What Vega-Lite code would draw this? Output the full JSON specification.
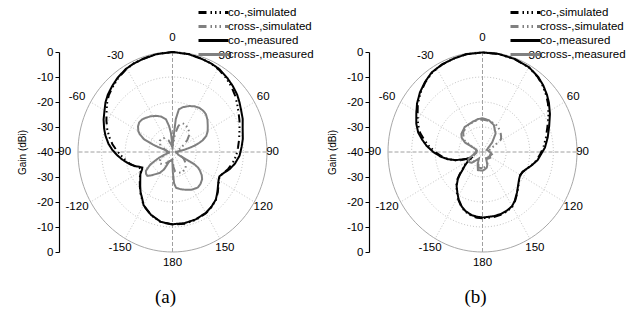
{
"$schema":"https://vega.github.io/schema/vega-lite/v6.json",
"background":"white",
"padding":{"left":17,"top":6,"right":0,"bottom":0},
"bounds":"flush",
"spacing":83,
"config":{"view":{"stroke":null},"font":"Liberation Sans","axisY":{"labelOverlap":false,"labelBound":false}},
"resolve":{"legend":{"color":"independent","strokeDash":"independent"}},
"datasets":{
"A":[
{"s":"co-,measured","ang":-180,"g":-11.1},{"s":"co-,measured","ang":-170,"g":-11.6},{"s":"co-,measured","ang":-160,"g":-13.3},{"s":"co-,measured","ang":-150,"g":-15.5},{"s":"co-,measured","ang":-146,"g":-17.2},{"s":"co-,measured","ang":-140,"g":-19.0},{"s":"co-,measured","ang":-135,"g":-20.7},{"s":"co-,measured","ang":-128,"g":-22.7},{"s":"co-,measured","ang":-123,"g":-23.8},{"s":"co-,measured","ang":-119,"g":-25.2},{"s":"co-,measured","ang":-116,"g":-25.8},{"s":"co-,measured","ang":-113,"g":-24.8},{"s":"co-,measured","ang":-110,"g":-23.4},{"s":"co-,measured","ang":-105,"g":-21.2},{"s":"co-,measured","ang":-98,"g":-18.5},{"s":"co-,measured","ang":-93,"g":-16.5},{"s":"co-,measured","ang":-88,"g":-14.5},{"s":"co-,measured","ang":-83,"g":-12.7},{"s":"co-,measured","ang":-77,"g":-10.9},{"s":"co-,measured","ang":-72,"g":-9.6},{"s":"co-,measured","ang":-66,"g":-8.1},{"s":"co-,measured","ang":-60,"g":-6.8},{"s":"co-,measured","ang":-55,"g":-5.4},{"s":"co-,measured","ang":-50,"g":-4.3},{"s":"co-,measured","ang":-44,"g":-3.3},{"s":"co-,measured","ang":-38,"g":-2.3},{"s":"co-,measured","ang":-31,"g":-1.4},{"s":"co-,measured","ang":-25,"g":-1.0},{"s":"co-,measured","ang":-19,"g":-0.8},{"s":"co-,measured","ang":-10,"g":-0.3},{"s":"co-,measured","ang":0,"g":0},{"s":"co-,measured","ang":10,"g":-0.3},{"s":"co-,measured","ang":19,"g":-0.8},{"s":"co-,measured","ang":25,"g":-1.0},{"s":"co-,measured","ang":31,"g":-1.4},{"s":"co-,measured","ang":38,"g":-2.4},{"s":"co-,measured","ang":44,"g":-3.3},{"s":"co-,measured","ang":50,"g":-4.3},{"s":"co-,measured","ang":55,"g":-5.4},{"s":"co-,measured","ang":60,"g":-6.5},{"s":"co-,measured","ang":66,"g":-7.5},{"s":"co-,measured","ang":72,"g":-8.8},{"s":"co-,measured","ang":80,"g":-9.8},{"s":"co-,measured","ang":86,"g":-10.7},{"s":"co-,measured","ang":93,"g":-11.6},{"s":"co-,measured","ang":100,"g":-13.2},{"s":"co-,measured","ang":106,"g":-14.9},{"s":"co-,measured","ang":111,"g":-16.7},{"s":"co-,measured","ang":116,"g":-17.9},{"s":"co-,measured","ang":120,"g":-17.5},{"s":"co-,measured","ang":125,"g":-16.5},{"s":"co-,measured","ang":130,"g":-15.2},{"s":"co-,measured","ang":136,"g":-13.6},{"s":"co-,measured","ang":143,"g":-12.6},{"s":"co-,measured","ang":150,"g":-11.9},{"s":"co-,measured","ang":160,"g":-11.3},{"s":"co-,measured","ang":170,"g":-11.1},{"s":"co-,measured","ang":180,"g":-11.1},
{"s":"co-,simulated","ang":-180,"g":-11.0},{"s":"co-,simulated","ang":-170,"g":-11.5},{"s":"co-,simulated","ang":-160,"g":-13.2},{"s":"co-,simulated","ang":-150,"g":-15.4},{"s":"co-,simulated","ang":-146,"g":-17.0},{"s":"co-,simulated","ang":-140,"g":-18.8},{"s":"co-,simulated","ang":-135,"g":-20.5},{"s":"co-,simulated","ang":-128,"g":-22.4},{"s":"co-,simulated","ang":-123,"g":-23.7},{"s":"co-,simulated","ang":-119,"g":-24.7},{"s":"co-,simulated","ang":-116,"g":-25.0},{"s":"co-,simulated","ang":-113,"g":-24.2},{"s":"co-,simulated","ang":-110,"g":-23.2},{"s":"co-,simulated","ang":-105,"g":-21.5},{"s":"co-,simulated","ang":-98,"g":-19.5},{"s":"co-,simulated","ang":-93,"g":-18.0},{"s":"co-,simulated","ang":-88,"g":-16.2},{"s":"co-,simulated","ang":-83,"g":-14.4},{"s":"co-,simulated","ang":-77,"g":-12.5},{"s":"co-,simulated","ang":-72,"g":-11.0},{"s":"co-,simulated","ang":-66,"g":-9.4},{"s":"co-,simulated","ang":-60,"g":-7.8},{"s":"co-,simulated","ang":-55,"g":-6.2},{"s":"co-,simulated","ang":-50,"g":-4.8},{"s":"co-,simulated","ang":-44,"g":-3.7},{"s":"co-,simulated","ang":-38,"g":-2.6},{"s":"co-,simulated","ang":-31,"g":-1.6},{"s":"co-,simulated","ang":-25,"g":-1.0},{"s":"co-,simulated","ang":-19,"g":-0.7},{"s":"co-,simulated","ang":-10,"g":-0.2},{"s":"co-,simulated","ang":0,"g":0},{"s":"co-,simulated","ang":10,"g":-0.2},{"s":"co-,simulated","ang":19,"g":-0.7},{"s":"co-,simulated","ang":25,"g":-1.1},{"s":"co-,simulated","ang":31,"g":-1.7},{"s":"co-,simulated","ang":38,"g":-2.8},{"s":"co-,simulated","ang":44,"g":-4.0},{"s":"co-,simulated","ang":50,"g":-5.3},{"s":"co-,simulated","ang":55,"g":-6.6},{"s":"co-,simulated","ang":60,"g":-7.8},{"s":"co-,simulated","ang":66,"g":-9.0},{"s":"co-,simulated","ang":72,"g":-10.2},{"s":"co-,simulated","ang":80,"g":-11.4},{"s":"co-,simulated","ang":86,"g":-12.2},{"s":"co-,simulated","ang":93,"g":-13.0},{"s":"co-,simulated","ang":100,"g":-14.2},{"s":"co-,simulated","ang":106,"g":-15.5},{"s":"co-,simulated","ang":111,"g":-16.8},{"s":"co-,simulated","ang":116,"g":-17.8},{"s":"co-,simulated","ang":120,"g":-17.4},{"s":"co-,simulated","ang":125,"g":-16.3},{"s":"co-,simulated","ang":130,"g":-15.0},{"s":"co-,simulated","ang":136,"g":-13.5},{"s":"co-,simulated","ang":143,"g":-12.5},{"s":"co-,simulated","ang":150,"g":-11.7},{"s":"co-,simulated","ang":160,"g":-11.1},{"s":"co-,simulated","ang":170,"g":-10.9},{"s":"co-,simulated","ang":180,"g":-11.0},
{"s":"cross-,measured","ang":-180,"g":-35},{"s":"cross-,measured","ang":-178,"g":-37},{"s":"cross-,measured","ang":-170,"g":-36.5},{"s":"cross-,measured","ang":-160,"g":-36},{"s":"cross-,measured","ang":-153,"g":-32.2},{"s":"cross-,measured","ang":-147,"g":-30},{"s":"cross-,measured","ang":-141,"g":-28.6},{"s":"cross-,measured","ang":-136,"g":-27},{"s":"cross-,measured","ang":-132,"g":-25.7},{"s":"cross-,measured","ang":-128,"g":-25.8},{"s":"cross-,measured","ang":-124,"g":-26.4},{"s":"cross-,measured","ang":-120,"g":-28.5},{"s":"cross-,measured","ang":-118,"g":-29.5},{"s":"cross-,measured","ang":-115,"g":-32},{"s":"cross-,measured","ang":-112,"g":-33.9},{"s":"cross-,measured","ang":-108,"g":-36.5},{"s":"cross-,measured","ang":-100,"g":-38.5},{"s":"cross-,measured","ang":-90,"g":-38.5},{"s":"cross-,measured","ang":-80,"g":-37.5},{"s":"cross-,measured","ang":-75,"g":-37},{"s":"cross-,measured","ang":-72,"g":-33.5},{"s":"cross-,measured","ang":-70,"g":-31},{"s":"cross-,measured","ang":-67,"g":-26.9},{"s":"cross-,measured","ang":-63,"g":-24.5},{"s":"cross-,measured","ang":-60,"g":-23.3},{"s":"cross-,measured","ang":-55,"g":-22.2},{"s":"cross-,measured","ang":-50,"g":-21.6},{"s":"cross-,measured","ang":-45,"g":-21.7},{"s":"cross-,measured","ang":-40,"g":-22.2},{"s":"cross-,measured","ang":-33,"g":-23},{"s":"cross-,measured","ang":-26,"g":-23.9},{"s":"cross-,measured","ang":-19,"g":-25},{"s":"cross-,measured","ang":-12,"g":-26.6},{"s":"cross-,measured","ang":-8,"g":-29.5},{"s":"cross-,measured","ang":-5,"g":-32.3},{"s":"cross-,measured","ang":-2,"g":-37},{"s":"cross-,measured","ang":0,"g":-39},{"s":"cross-,measured","ang":2,"g":-37},{"s":"cross-,measured","ang":5,"g":-32.2},{"s":"cross-,measured","ang":6,"g":-26.8},{"s":"cross-,measured","ang":9,"g":-22.7},{"s":"cross-,measured","ang":14,"g":-21.5},{"s":"cross-,measured","ang":21,"g":-20.3},{"s":"cross-,measured","ang":27,"g":-19.5},{"s":"cross-,measured","ang":33,"g":-19},{"s":"cross-,measured","ang":38,"g":-19},{"s":"cross-,measured","ang":43,"g":-19.3},{"s":"cross-,measured","ang":49,"g":-20.4},{"s":"cross-,measured","ang":55,"g":-21.8},{"s":"cross-,measured","ang":61,"g":-23},{"s":"cross-,measured","ang":66,"g":-24.4},{"s":"cross-,measured","ang":70,"g":-26.5},{"s":"cross-,measured","ang":72,"g":-28.1},{"s":"cross-,measured","ang":75,"g":-30.5},{"s":"cross-,measured","ang":77,"g":-32.7},{"s":"cross-,measured","ang":80,"g":-35},{"s":"cross-,measured","ang":82,"g":-37.1},{"s":"cross-,measured","ang":88,"g":-38.5},{"s":"cross-,measured","ang":95,"g":-38.5},{"s":"cross-,measured","ang":105,"g":-38},{"s":"cross-,measured","ang":112,"g":-37.5},{"s":"cross-,measured","ang":115,"g":-36.9},{"s":"cross-,measured","ang":117,"g":-33.6},{"s":"cross-,measured","ang":118,"g":-29.5},{"s":"cross-,measured","ang":120,"g":-27.5},{"s":"cross-,measured","ang":123,"g":-26.1},{"s":"cross-,measured","ang":127,"g":-24.5},{"s":"cross-,measured","ang":131,"g":-23.4},{"s":"cross-,measured","ang":137,"g":-22.6},{"s":"cross-,measured","ang":143,"g":-22.2},{"s":"cross-,measured","ang":151,"g":-22.8},{"s":"cross-,measured","ang":159,"g":-23.8},{"s":"cross-,measured","ang":167,"g":-24.7},{"s":"cross-,measured","ang":174,"g":-25.6},{"s":"cross-,measured","ang":177,"g":-27.5},{"s":"cross-,measured","ang":179,"g":-32},{"s":"cross-,measured","ang":180,"g":-35},
{"s":"cross-,simulated","ang":-180,"g":-37},{"s":"cross-,simulated","ang":-160,"g":-36},{"s":"cross-,simulated","ang":-150,"g":-35},{"s":"cross-,simulated","ang":-140,"g":-33.5},{"s":"cross-,simulated","ang":-130,"g":-33},{"s":"cross-,simulated","ang":-120,"g":-34},{"s":"cross-,simulated","ang":-110,"g":-36},{"s":"cross-,simulated","ang":-100,"g":-37.5},{"s":"cross-,simulated","ang":-90,"g":-38},{"s":"cross-,simulated","ang":-80,"g":-37.5},{"s":"cross-,simulated","ang":-70,"g":-36},{"s":"cross-,simulated","ang":-60,"g":-34},{"s":"cross-,simulated","ang":-50,"g":-33},{"s":"cross-,simulated","ang":-40,"g":-33},{"s":"cross-,simulated","ang":-30,"g":-33.5},{"s":"cross-,simulated","ang":-20,"g":-35},{"s":"cross-,simulated","ang":-10,"g":-37},{"s":"cross-,simulated","ang":0,"g":-38.5},{"s":"cross-,simulated","ang":8,"g":-33},{"s":"cross-,simulated","ang":13,"g":-29.5},{"s":"cross-,simulated","ang":17,"g":-27.8},{"s":"cross-,simulated","ang":25,"g":-27.7},{"s":"cross-,simulated","ang":35,"g":-28.5},{"s":"cross-,simulated","ang":45,"g":-29.7},{"s":"cross-,simulated","ang":52,"g":-32},{"s":"cross-,simulated","ang":58,"g":-34},{"s":"cross-,simulated","ang":65,"g":-36},{"s":"cross-,simulated","ang":75,"g":-37.5},{"s":"cross-,simulated","ang":90,"g":-38},{"s":"cross-,simulated","ang":100,"g":-37.5},{"s":"cross-,simulated","ang":110,"g":-36.5},{"s":"cross-,simulated","ang":120,"g":-34.5},{"s":"cross-,simulated","ang":130,"g":-32.5},{"s":"cross-,simulated","ang":142,"g":-31.2},{"s":"cross-,simulated","ang":155,"g":-31},{"s":"cross-,simulated","ang":165,"g":-31.4},{"s":"cross-,simulated","ang":172,"g":-32},{"s":"cross-,simulated","ang":176,"g":-34},{"s":"cross-,simulated","ang":180,"g":-37}
],
"B":[
{"s":"co-,measured","ang":-180,"g":-13.8},{"s":"co-,measured","ang":-175,"g":-14.0},{"s":"co-,measured","ang":-170,"g":-14.3},{"s":"co-,measured","ang":-163,"g":-15.3},{"s":"co-,measured","ang":-158,"g":-16.5},{"s":"co-,measured","ang":-152,"g":-18.5},{"s":"co-,measured","ang":-147,"g":-20.5},{"s":"co-,measured","ang":-141,"g":-22.6},{"s":"co-,measured","ang":-136,"g":-25.0},{"s":"co-,measured","ang":-133,"g":-27.0},{"s":"co-,measured","ang":-130,"g":-29.2},{"s":"co-,measured","ang":-126,"g":-30.8},{"s":"co-,measured","ang":-120,"g":-33.2},{"s":"co-,measured","ang":-116,"g":-34.8},{"s":"co-,measured","ang":-114,"g":-34.5},{"s":"co-,measured","ang":-112,"g":-32.8},{"s":"co-,measured","ang":-110,"g":-31.5},{"s":"co-,measured","ang":-106,"g":-28.2},{"s":"co-,measured","ang":-101,"g":-25.0},{"s":"co-,measured","ang":-96,"g":-22.2},{"s":"co-,measured","ang":-90,"g":-19.2},{"s":"co-,measured","ang":-84,"g":-16.2},{"s":"co-,measured","ang":-79,"g":-14.0},{"s":"co-,measured","ang":-74,"g":-11.7},{"s":"co-,measured","ang":-68,"g":-9.8},{"s":"co-,measured","ang":-61,"g":-8.0},{"s":"co-,measured","ang":-55,"g":-6.2},{"s":"co-,measured","ang":-48,"g":-4.4},{"s":"co-,measured","ang":-41,"g":-2.9},{"s":"co-,measured","ang":-34,"g":-1.6},{"s":"co-,measured","ang":-26,"g":-1.0},{"s":"co-,measured","ang":-18,"g":-0.7},{"s":"co-,measured","ang":-10,"g":-0.3},{"s":"co-,measured","ang":0,"g":-0.2},{"s":"co-,measured","ang":10,"g":-0.2},{"s":"co-,measured","ang":20,"g":-0.4},{"s":"co-,measured","ang":30,"g":-0.8},{"s":"co-,measured","ang":38,"g":-1.8},{"s":"co-,measured","ang":44,"g":-3.0},{"s":"co-,measured","ang":50,"g":-4.4},{"s":"co-,measured","ang":55,"g":-5.7},{"s":"co-,measured","ang":62,"g":-7.7},{"s":"co-,measured","ang":70,"g":-10.0},{"s":"co-,measured","ang":78,"g":-11.8},{"s":"co-,measured","ang":86,"g":-13.5},{"s":"co-,measured","ang":92,"g":-15.2},{"s":"co-,measured","ang":98,"g":-16.5},{"s":"co-,measured","ang":105,"g":-18.7},{"s":"co-,measured","ang":110,"g":-20.2},{"s":"co-,measured","ang":115,"g":-21.3},{"s":"co-,measured","ang":120,"g":-21.6},{"s":"co-,measured","ang":125,"g":-21.1},{"s":"co-,measured","ang":131,"g":-20.0},{"s":"co-,measured","ang":138,"g":-18.2},{"s":"co-,measured","ang":145,"g":-16.2},{"s":"co-,measured","ang":150,"g":-15.0},{"s":"co-,measured","ang":156,"g":-14.4},{"s":"co-,measured","ang":163,"g":-14.0},{"s":"co-,measured","ang":170,"g":-13.9},{"s":"co-,measured","ang":180,"g":-13.8},
{"s":"co-,simulated","ang":-180,"g":-13.5},{"s":"co-,simulated","ang":-175,"g":-13.6},{"s":"co-,simulated","ang":-170,"g":-14.0},{"s":"co-,simulated","ang":-163,"g":-15.0},{"s":"co-,simulated","ang":-158,"g":-16.3},{"s":"co-,simulated","ang":-152,"g":-18.3},{"s":"co-,simulated","ang":-147,"g":-20.3},{"s":"co-,simulated","ang":-141,"g":-22.4},{"s":"co-,simulated","ang":-136,"g":-24.6},{"s":"co-,simulated","ang":-133,"g":-26.6},{"s":"co-,simulated","ang":-130,"g":-28.6},{"s":"co-,simulated","ang":-126,"g":-30.3},{"s":"co-,simulated","ang":-120,"g":-32.5},{"s":"co-,simulated","ang":-116,"g":-34.0},{"s":"co-,simulated","ang":-114,"g":-33.8},{"s":"co-,simulated","ang":-112,"g":-32.6},{"s":"co-,simulated","ang":-110,"g":-31.0},{"s":"co-,simulated","ang":-106,"g":-28.0},{"s":"co-,simulated","ang":-101,"g":-25.2},{"s":"co-,simulated","ang":-96,"g":-22.8},{"s":"co-,simulated","ang":-90,"g":-20.0},{"s":"co-,simulated","ang":-84,"g":-17.2},{"s":"co-,simulated","ang":-79,"g":-15.0},{"s":"co-,simulated","ang":-74,"g":-12.6},{"s":"co-,simulated","ang":-68,"g":-10.6},{"s":"co-,simulated","ang":-61,"g":-8.6},{"s":"co-,simulated","ang":-55,"g":-6.6},{"s":"co-,simulated","ang":-48,"g":-4.7},{"s":"co-,simulated","ang":-41,"g":-3.1},{"s":"co-,simulated","ang":-34,"g":-1.8},{"s":"co-,simulated","ang":-26,"g":-1.1},{"s":"co-,simulated","ang":-18,"g":-0.7},{"s":"co-,simulated","ang":-10,"g":-0.3},{"s":"co-,simulated","ang":0,"g":-0.2},{"s":"co-,simulated","ang":10,"g":-0.2},{"s":"co-,simulated","ang":20,"g":-0.4},{"s":"co-,simulated","ang":30,"g":-0.9},{"s":"co-,simulated","ang":38,"g":-2.0},{"s":"co-,simulated","ang":44,"g":-3.3},{"s":"co-,simulated","ang":50,"g":-4.8},{"s":"co-,simulated","ang":55,"g":-6.2},{"s":"co-,simulated","ang":62,"g":-8.4},{"s":"co-,simulated","ang":70,"g":-10.8},{"s":"co-,simulated","ang":78,"g":-12.6},{"s":"co-,simulated","ang":86,"g":-14.2},{"s":"co-,simulated","ang":92,"g":-15.6},{"s":"co-,simulated","ang":98,"g":-16.8},{"s":"co-,simulated","ang":105,"g":-18.8},{"s":"co-,simulated","ang":110,"g":-20.2},{"s":"co-,simulated","ang":115,"g":-21.2},{"s":"co-,simulated","ang":120,"g":-21.5},{"s":"co-,simulated","ang":125,"g":-21.0},{"s":"co-,simulated","ang":131,"g":-19.8},{"s":"co-,simulated","ang":138,"g":-18.0},{"s":"co-,simulated","ang":145,"g":-16.0},{"s":"co-,simulated","ang":150,"g":-14.8},{"s":"co-,simulated","ang":156,"g":-14.1},{"s":"co-,simulated","ang":163,"g":-13.7},{"s":"co-,simulated","ang":170,"g":-13.5},{"s":"co-,simulated","ang":180,"g":-13.5},
{"s":"cross-,measured","ang":-180,"g":-32.5},{"s":"cross-,measured","ang":-172,"g":-32.6},{"s":"cross-,measured","ang":-165,"g":-32.5},{"s":"cross-,measured","ang":-158,"g":-34.5},{"s":"cross-,measured","ang":-150,"g":-37},{"s":"cross-,measured","ang":-140,"g":-35.5},{"s":"cross-,measured","ang":-134,"g":-33.8},{"s":"cross-,measured","ang":-125,"g":-33},{"s":"cross-,measured","ang":-116,"g":-33.3},{"s":"cross-,measured","ang":-108,"g":-35.5},{"s":"cross-,measured","ang":-95,"g":-37},{"s":"cross-,measured","ang":-80,"g":-37.5},{"s":"cross-,measured","ang":-70,"g":-37},{"s":"cross-,measured","ang":-66,"g":-35.8},{"s":"cross-,measured","ang":-63,"g":-31.7},{"s":"cross-,measured","ang":-57,"g":-29.5},{"s":"cross-,measured","ang":-51,"g":-28.5},{"s":"cross-,measured","ang":-37,"g":-27.5},{"s":"cross-,measured","ang":-19,"g":-27.2},{"s":"cross-,measured","ang":-8,"g":-26.7},{"s":"cross-,measured","ang":0,"g":-26.5},{"s":"cross-,measured","ang":12,"g":-27},{"s":"cross-,measured","ang":24,"g":-28.2},{"s":"cross-,measured","ang":37,"g":-30.8},{"s":"cross-,measured","ang":47,"g":-34.4},{"s":"cross-,measured","ang":55,"g":-37},{"s":"cross-,measured","ang":65,"g":-38},{"s":"cross-,measured","ang":80,"g":-37.5},{"s":"cross-,measured","ang":95,"g":-36.5},{"s":"cross-,measured","ang":103,"g":-35.9},{"s":"cross-,measured","ang":115,"g":-36.5},{"s":"cross-,measured","ang":125,"g":-36},{"s":"cross-,measured","ang":140,"g":-36.5},{"s":"cross-,measured","ang":150,"g":-37},{"s":"cross-,measured","ang":158,"g":-34.5},{"s":"cross-,measured","ang":164,"g":-33.5},{"s":"cross-,measured","ang":172,"g":-33},{"s":"cross-,measured","ang":180,"g":-32.5},
{"s":"cross-,simulated","ang":-180,"g":-33.5},{"s":"cross-,simulated","ang":-165,"g":-33.5},{"s":"cross-,simulated","ang":-150,"g":-36.5},{"s":"cross-,simulated","ang":-135,"g":-34.5},{"s":"cross-,simulated","ang":-122,"g":-34},{"s":"cross-,simulated","ang":-110,"g":-36},{"s":"cross-,simulated","ang":-95,"g":-37.5},{"s":"cross-,simulated","ang":-75,"g":-37.5},{"s":"cross-,simulated","ang":-65,"g":-35},{"s":"cross-,simulated","ang":-58,"g":-30.5},{"s":"cross-,simulated","ang":-45,"g":-28.5},{"s":"cross-,simulated","ang":-30,"g":-27.7},{"s":"cross-,simulated","ang":-15,"g":-27.2},{"s":"cross-,simulated","ang":0,"g":-27},{"s":"cross-,simulated","ang":15,"g":-27.2},{"s":"cross-,simulated","ang":30,"g":-27.8},{"s":"cross-,simulated","ang":42,"g":-28.7},{"s":"cross-,simulated","ang":52,"g":-30},{"s":"cross-,simulated","ang":57,"g":-30.7},{"s":"cross-,simulated","ang":63,"g":-34},{"s":"cross-,simulated","ang":70,"g":-36.5},{"s":"cross-,simulated","ang":85,"g":-37.5},{"s":"cross-,simulated","ang":100,"g":-36.5},{"s":"cross-,simulated","ang":120,"g":-36.5},{"s":"cross-,simulated","ang":140,"g":-37},{"s":"cross-,simulated","ang":155,"g":-35},{"s":"cross-,simulated","ang":168,"g":-34},{"s":"cross-,simulated","ang":180,"g":-33.5}
]
},
"hconcat":[
{
"width":227,"height":200,
"title":{"text":"(a)","orient":"bottom","anchor":"middle","font":"Liberation Serif","fontSize":19,"fontWeight":"normal","color":"black","offset":20,"dx":-7},
"layer":[
{"data":{"values":[{"ring":10},{"ring":20},{"ring":30}]},
"transform":[{"calculate":"0","as":"z"}],
"mark":{"type":"point","shape":"M 0.945 0 C 0.945 0.5523 0.5219 1 0 1 C -0.5219 1 -0.945 0.5523 -0.945 0 C -0.945 -0.5523 -0.5219 -1 0 -1 C 0.5219 -1 0.945 -0.5523 0.945 0 Z","filled":false,"color":"#c4c4c4","strokeWidth":1,"strokeDash":[1,2],"opacity":1},
"encoding":{
"x":{"field":"z","type":"quantitative","scale":{"domain":[-48,48],"nice":false,"zero":false},"axis":null},
"y":{"field":"z","type":"quantitative","scale":{"domain":[-40,40],"nice":false,"zero":false},"axis":{"values":[-40,-35,-30,-25,-20,-15,-10,-5,0,5,10,15,20,25,30,35,40],"tickCount":16,"labelExpr":"datum.value % 10 == 0 ? '' + (abs(datum.value) - 40) : ''","labelFontSize":{"condition":{"test":"datum.value % 10 != 0","value":0},"value":11.5},"tickSize":{"condition":{"test":"datum.value % 10 != 0","value":2},"value":4},"tickColor":"black","domainColor":"black","domainWidth":1.2,"labelColor":"black","labelFont":"Liberation Sans","labelPadding":2,"labelOverlap":false,"labelFlush":false,"title":"Gain (dBi)","titleFont":"Liberation Sans","titleFontSize":10,"titleFontWeight":"normal","titleColor":"black","titlePadding":9,"grid":false}},
"size":{"field":"ring","type":"quantitative","scale":{"type":"pow","exponent":2,"domain":[0,40],"range":[0,40000]},"legend":null}}},
{"data":{"values":[{"ring":40}]},
"transform":[{"calculate":"0","as":"z"}],
"mark":{"type":"point","shape":"M 0.945 0 C 0.945 0.5523 0.5219 1 0 1 C -0.5219 1 -0.945 0.5523 -0.945 0 C -0.945 -0.5523 -0.5219 -1 0 -1 C 0.5219 -1 0.945 -0.5523 0.945 0 Z","filled":false,"color":"#a8a8a8","strokeWidth":1,"opacity":1},
"encoding":{"x":{"field":"z","type":"quantitative"},"y":{"field":"z","type":"quantitative","axis":{"values":[-40,-35,-30,-25,-20,-15,-10,-5,0,5,10,15,20,25,30,35,40],"tickCount":16}},"size":{"field":"ring","type":"quantitative","scale":{"type":"pow","exponent":2,"domain":[0,40],"range":[0,40000]},"legend":null}}},
{"data":{"values":[{"ang":30},{"ang":60},{"ang":120},{"ang":150},{"ang":-30},{"ang":-60},{"ang":-120},{"ang":-150}]},
"transform":[{"calculate":"0","as":"z"},{"calculate":"40*sin(datum.ang*PI/180)","as":"sx"},{"calculate":"40*cos(datum.ang*PI/180)","as":"sy"}],
"mark":{"type":"rule","color":"#c4c4c4","strokeWidth":1,"strokeDash":[1,2]},
"encoding":{"x":{"field":"z","type":"quantitative"},"y":{"field":"z","type":"quantitative","axis":{"values":[-40,-35,-30,-25,-20,-15,-10,-5,0,5,10,15,20,25,30,35,40],"tickCount":16}},"x2":{"field":"sx"},"y2":{"field":"sy"}}},
{"data":{"values":[{"ang":0},{"ang":90},{"ang":180},{"ang":-90}]},
"transform":[{"calculate":"0","as":"z"},{"calculate":"40*sin(datum.ang*PI/180)","as":"sx"},{"calculate":"40*cos(datum.ang*PI/180)","as":"sy"}],
"mark":{"type":"rule","color":"#a0a0a0","strokeWidth":1,"strokeDash":[4,2]},
"encoding":{"x":{"field":"z","type":"quantitative"},"y":{"field":"z","type":"quantitative","axis":{"values":[-40,-35,-30,-25,-20,-15,-10,-5,0,5,10,15,20,25,30,35,40],"tickCount":16}},"x2":{"field":"sx"},"y2":{"field":"sy"}}},
{"data":{"name":"A"},
"transform":[{"filter":"indexof(datum.s,'simulated') >= 0"},{"calculate":"(datum.g+40)*sin(datum.ang*PI/180)","as":"px"},{"calculate":"(datum.g+40)*cos(datum.ang*PI/180)","as":"py"}],
"mark":{"type":"line","strokeWidth":2},
"encoding":{"x":{"field":"px","type":"quantitative"},"y":{"field":"py","type":"quantitative","axis":{"values":[-40,-35,-30,-25,-20,-15,-10,-5,0,5,10,15,20,25,30,35,40],"tickCount":16}},"order":{"field":"ang","type":"quantitative"},
"color":{"field":"s","type":"nominal","scale":{"domain":["co-,simulated","cross-,simulated","co-,measured","cross-,measured"],"range":["#000000","#808080","#000000","#808080"]},"legend":{"orient":"none","legendX":148,"legendY":-46,"title":null,"symbolType":"M -3 0 L 3 0","symbolSize":100,"symbolStrokeWidth":3,"labelFont":"Liberation Sans","labelFontSize":11.5,"labelColor":"black","labelOffset":8,"rowPadding":1,"padding":0}},
"strokeDash":{"field":"s","type":"nominal","scale":{"domain":["co-,simulated","cross-,simulated","co-,measured","cross-,measured"],"range":[[8,4,1.5,3,1.5,3,1.5,4],[8,4,1.5,3,1.5,3,1.5,4],[1,0],[1,0]]},"legend":{"orient":"none","legendX":148,"legendY":-46,"title":null,"symbolType":"M -3 0 L 3 0","symbolSize":100,"symbolStrokeWidth":3,"labelFont":"Liberation Sans","labelFontSize":11.5,"labelColor":"black","labelOffset":8,"rowPadding":1,"padding":0}}}},
{"data":{"name":"A"},
"transform":[{"filter":"indexof(datum.s,'measured') >= 0"},{"calculate":"(datum.g+40)*sin(datum.ang*PI/180)","as":"px"},{"calculate":"(datum.g+40)*cos(datum.ang*PI/180)","as":"py"}],
"mark":{"type":"line","strokeWidth":2},
"encoding":{"x":{"field":"px","type":"quantitative"},"y":{"field":"py","type":"quantitative","axis":{"values":[-40,-35,-30,-25,-20,-15,-10,-5,0,5,10,15,20,25,30,35,40],"tickCount":16}},"order":{"field":"ang","type":"quantitative"},
"color":{"field":"s","type":"nominal"},"strokeDash":{"field":"s","type":"nominal"}}},
{"data":{"values":[{"ang":0},{"ang":30},{"ang":60},{"ang":90},{"ang":120},{"ang":150},{"ang":180},{"ang":-150},{"ang":-120},{"ang":-90},{"ang":-60},{"ang":-30}]},
"transform":[{"calculate":"'' + datum.ang","as":"t"},{"calculate":"datum.ang == 90 ? 42.3 : datum.ang == -90 ? -46.4 : 44.3*sin(datum.ang*PI/180) - ((datum.ang < 0 && datum.ang > -150) ? 2 : 0)","as":"lx"},{"calculate":"datum.ang == 0 ? 45.5 : 44.3*cos(datum.ang*PI/180)","as":"ly"}],
"mark":{"type":"text","font":"Liberation Sans","fontSize":11.5,"color":"black","align":"center","baseline":"middle"},
"encoding":{"x":{"field":"lx","type":"quantitative"},"y":{"field":"ly","type":"quantitative","axis":{"values":[-40,-35,-30,-25,-20,-15,-10,-5,0,5,10,15,20,25,30,35,40],"tickCount":16}},"text":{"field":"t","type":"nominal"}}}
]
},
{
"width":227,"height":200,
"title":{"text":"(b)","orient":"bottom","anchor":"middle","font":"Liberation Serif","fontSize":19,"fontWeight":"normal","color":"black","offset":20,"dx":-7},
"layer":[
{"data":{"values":[{"ring":10},{"ring":20},{"ring":30}]},
"transform":[{"calculate":"0","as":"z"}],
"mark":{"type":"point","shape":"M 0.945 0 C 0.945 0.5523 0.5219 1 0 1 C -0.5219 1 -0.945 0.5523 -0.945 0 C -0.945 -0.5523 -0.5219 -1 0 -1 C 0.5219 -1 0.945 -0.5523 0.945 0 Z","filled":false,"color":"#c4c4c4","strokeWidth":1,"strokeDash":[1,2],"opacity":1},
"encoding":{
"x":{"field":"z","type":"quantitative","scale":{"domain":[-48,48],"nice":false,"zero":false},"axis":null},
"y":{"field":"z","type":"quantitative","scale":{"domain":[-40,40],"nice":false,"zero":false},"axis":{"values":[-40,-35,-30,-25,-20,-15,-10,-5,0,5,10,15,20,25,30,35,40],"tickCount":16,"labelExpr":"datum.value % 10 == 0 ? '' + (abs(datum.value) - 40) : ''","labelFontSize":{"condition":{"test":"datum.value % 10 != 0","value":0},"value":11.5},"tickSize":{"condition":{"test":"datum.value % 10 != 0","value":2},"value":4},"tickColor":"black","domainColor":"black","domainWidth":1.2,"labelColor":"black","labelFont":"Liberation Sans","labelPadding":2,"labelOverlap":false,"labelFlush":false,"title":"Gain (dBi)","titleFont":"Liberation Sans","titleFontSize":10,"titleFontWeight":"normal","titleColor":"black","titlePadding":9,"grid":false}},
"size":{"field":"ring","type":"quantitative","scale":{"type":"pow","exponent":2,"domain":[0,40],"range":[0,40000]},"legend":null}}},
{"data":{"values":[{"ring":40}]},
"transform":[{"calculate":"0","as":"z"}],
"mark":{"type":"point","shape":"M 0.945 0 C 0.945 0.5523 0.5219 1 0 1 C -0.5219 1 -0.945 0.5523 -0.945 0 C -0.945 -0.5523 -0.5219 -1 0 -1 C 0.5219 -1 0.945 -0.5523 0.945 0 Z","filled":false,"color":"#a8a8a8","strokeWidth":1,"opacity":1},
"encoding":{"x":{"field":"z","type":"quantitative"},"y":{"field":"z","type":"quantitative","axis":{"values":[-40,-35,-30,-25,-20,-15,-10,-5,0,5,10,15,20,25,30,35,40],"tickCount":16}},"size":{"field":"ring","type":"quantitative","scale":{"type":"pow","exponent":2,"domain":[0,40],"range":[0,40000]},"legend":null}}},
{"data":{"values":[{"ang":30},{"ang":60},{"ang":120},{"ang":150},{"ang":-30},{"ang":-60},{"ang":-120},{"ang":-150}]},
"transform":[{"calculate":"0","as":"z"},{"calculate":"40*sin(datum.ang*PI/180)","as":"sx"},{"calculate":"40*cos(datum.ang*PI/180)","as":"sy"}],
"mark":{"type":"rule","color":"#c4c4c4","strokeWidth":1,"strokeDash":[1,2]},
"encoding":{"x":{"field":"z","type":"quantitative"},"y":{"field":"z","type":"quantitative","axis":{"values":[-40,-35,-30,-25,-20,-15,-10,-5,0,5,10,15,20,25,30,35,40],"tickCount":16}},"x2":{"field":"sx"},"y2":{"field":"sy"}}},
{"data":{"values":[{"ang":0},{"ang":90},{"ang":180},{"ang":-90}]},
"transform":[{"calculate":"0","as":"z"},{"calculate":"40*sin(datum.ang*PI/180)","as":"sx"},{"calculate":"40*cos(datum.ang*PI/180)","as":"sy"}],
"mark":{"type":"rule","color":"#a0a0a0","strokeWidth":1,"strokeDash":[4,2]},
"encoding":{"x":{"field":"z","type":"quantitative"},"y":{"field":"z","type":"quantitative","axis":{"values":[-40,-35,-30,-25,-20,-15,-10,-5,0,5,10,15,20,25,30,35,40],"tickCount":16}},"x2":{"field":"sx"},"y2":{"field":"sy"}}},
{"data":{"name":"B"},
"transform":[{"filter":"indexof(datum.s,'simulated') >= 0"},{"calculate":"(datum.g+40)*sin(datum.ang*PI/180)","as":"px"},{"calculate":"(datum.g+40)*cos(datum.ang*PI/180)","as":"py"}],
"mark":{"type":"line","strokeWidth":2},
"encoding":{"x":{"field":"px","type":"quantitative"},"y":{"field":"py","type":"quantitative","axis":{"values":[-40,-35,-30,-25,-20,-15,-10,-5,0,5,10,15,20,25,30,35,40],"tickCount":16}},"order":{"field":"ang","type":"quantitative"},
"color":{"field":"s","type":"nominal","scale":{"domain":["co-,simulated","cross-,simulated","co-,measured","cross-,measured"],"range":["#000000","#808080","#000000","#808080"]},"legend":{"orient":"none","legendX":150,"legendY":-46,"title":null,"symbolType":"M -3 0 L 3 0","symbolSize":100,"symbolStrokeWidth":3,"labelFont":"Liberation Sans","labelFontSize":11.5,"labelColor":"black","labelOffset":8,"rowPadding":1,"padding":0}},
"strokeDash":{"field":"s","type":"nominal","scale":{"domain":["co-,simulated","cross-,simulated","co-,measured","cross-,measured"],"range":[[8,4,1.5,3,1.5,3,1.5,4],[8,4,1.5,3,1.5,3,1.5,4],[1,0],[1,0]]},"legend":{"orient":"none","legendX":150,"legendY":-46,"title":null,"symbolType":"M -3 0 L 3 0","symbolSize":100,"symbolStrokeWidth":3,"labelFont":"Liberation Sans","labelFontSize":11.5,"labelColor":"black","labelOffset":8,"rowPadding":1,"padding":0}}}},
{"data":{"name":"B"},
"transform":[{"filter":"indexof(datum.s,'measured') >= 0"},{"calculate":"(datum.g+40)*sin(datum.ang*PI/180)","as":"px"},{"calculate":"(datum.g+40)*cos(datum.ang*PI/180)","as":"py"}],
"mark":{"type":"line","strokeWidth":2},
"encoding":{"x":{"field":"px","type":"quantitative"},"y":{"field":"py","type":"quantitative","axis":{"values":[-40,-35,-30,-25,-20,-15,-10,-5,0,5,10,15,20,25,30,35,40],"tickCount":16}},"order":{"field":"ang","type":"quantitative"},
"color":{"field":"s","type":"nominal"},"strokeDash":{"field":"s","type":"nominal"}}},
{"data":{"values":[{"ang":0},{"ang":30},{"ang":60},{"ang":90},{"ang":120},{"ang":150},{"ang":180},{"ang":-150},{"ang":-120},{"ang":-90},{"ang":-60},{"ang":-30}]},
"transform":[{"calculate":"'' + datum.ang","as":"t"},{"calculate":"datum.ang == 90 ? 42.3 : datum.ang == -90 ? -46.4 : 44.3*sin(datum.ang*PI/180) - ((datum.ang < 0 && datum.ang > -150) ? 2 : 0)","as":"lx"},{"calculate":"datum.ang == 0 ? 45.5 : 44.3*cos(datum.ang*PI/180)","as":"ly"}],
"mark":{"type":"text","font":"Liberation Sans","fontSize":11.5,"color":"black","align":"center","baseline":"middle"},
"encoding":{"x":{"field":"lx","type":"quantitative"},"y":{"field":"ly","type":"quantitative","axis":{"values":[-40,-35,-30,-25,-20,-15,-10,-5,0,5,10,15,20,25,30,35,40],"tickCount":16}},"text":{"field":"t","type":"nominal"}}}
]
}
]
}
